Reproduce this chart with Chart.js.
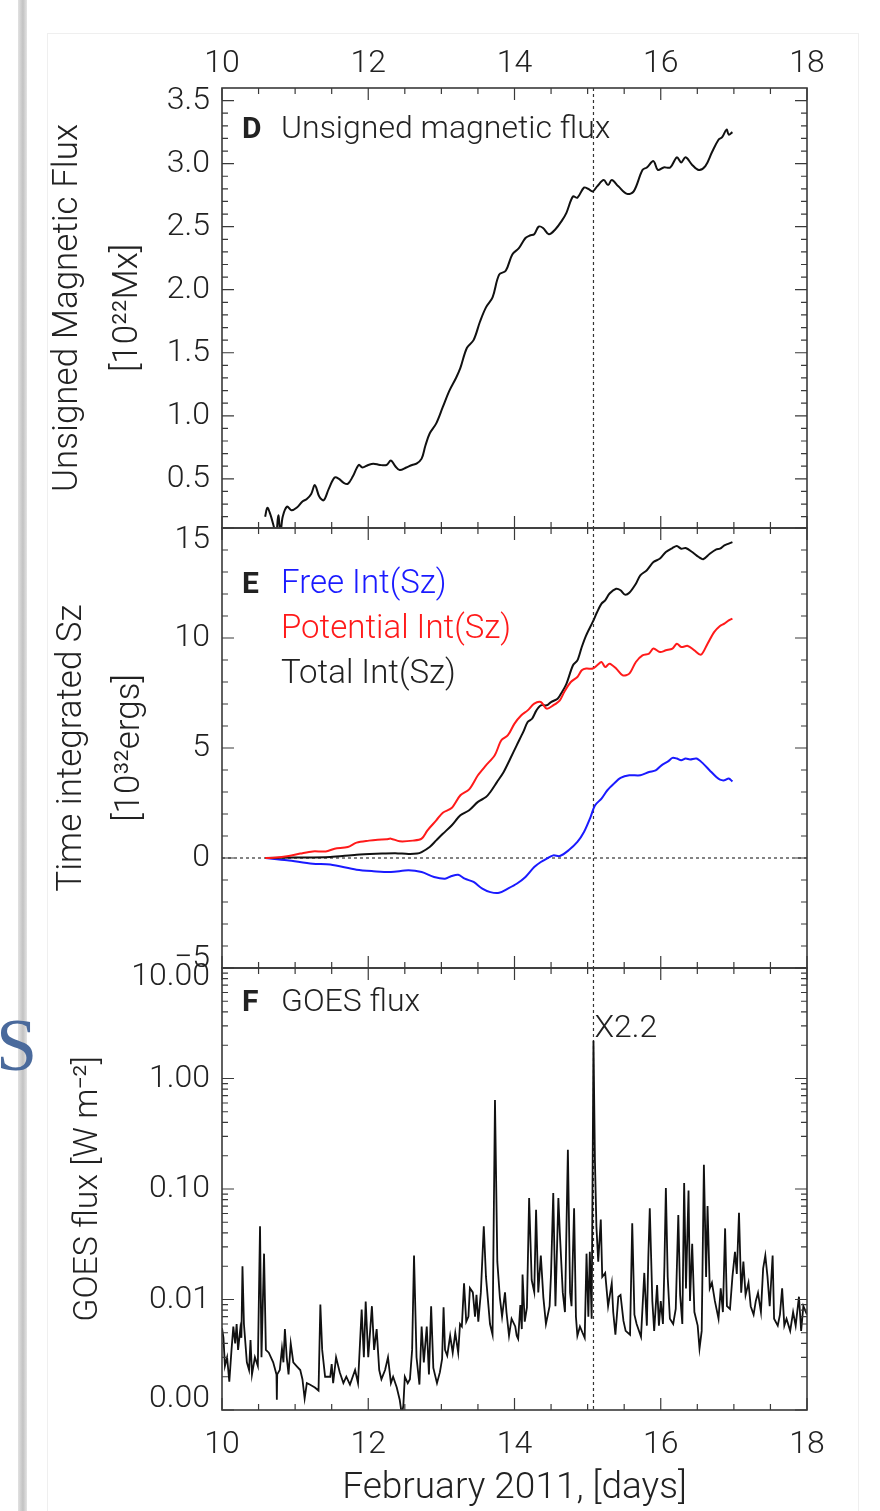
<!DOCTYPE html>
<html>
<head>
<meta charset="utf-8">
<script src="https://cdn.jsdelivr.net/npm/chart.js@4.4.1/dist/chart.umd.min.js"></script>
<style>
  html, body { margin: 0; padding: 0; background: #fff; }
  body { width: 880px; height: 1511px; position: relative; overflow: hidden; }
  .shadow { position: absolute; left: 18px; top: 0; width: 9px; height: 1511px;
            background: linear-gradient(to right, #e2e2e2, #c2c2c2 55%, #e4e4e4); }
  .slide-s { position: absolute; left: -4px; top: 1008px; font: 74px "Liberation Serif", serif; color: #4a6a9c; z-index: 1; line-height: 1; }
  .sheet { position: absolute; left: 47px; top: 33px; width: 810px; height: 1500px; border: 1px solid #efefef; }
  canvas { position: absolute; left: 0; z-index: 2; }
</style>
</head>
<body>
<div class="shadow"></div>
<div class="slide-s">S</div>
<div class="sheet"></div>
<canvas id="fluxChart" width="880" height="540" style="top:0px"></canvas>
<canvas id="szChart" width="880" height="456" style="top:520px"></canvas>
<canvas id="goesChart" width="880" height="551" style="top:960px"></canvas>
<script>
// ---- data ----
const xTicks = [10, 12, 14, 16, 18];
const flareDay = 15.08;

// D: unsigned magnetic flux [10^22 Mx]
const fluxTicks = [0.5, 1.0, 1.5, 2.0, 2.5, 3.0, 3.5];
const fluxDays = [10.59, 10.62, 10.66, 10.70, 10.74, 10.77, 10.80, 10.83, 10.89, 10.95,
  11.02, 11.10, 11.16, 11.22, 11.27, 11.33, 11.39, 11.46, 11.54, 11.60, 11.66, 11.72, 11.79,
  11.87, 11.92, 12.00, 12.07, 12.16, 12.25, 12.31, 12.37, 12.43, 12.52, 12.60, 12.66, 12.73,
  12.78, 12.84, 12.93, 13.02, 13.11, 13.20, 13.26, 13.35, 13.44, 13.53, 13.61, 13.70, 13.79,
  13.88, 13.97, 14.06, 14.15, 14.21, 14.27, 14.33, 14.39, 14.47, 14.56, 14.65, 14.71, 14.80,
  14.86, 14.95, 15.01, 15.07, 15.13, 15.22, 15.28, 15.33, 15.42, 15.54, 15.63, 15.75, 15.81,
  15.90, 15.96, 16.04, 16.13, 16.22, 16.28, 16.34, 16.43, 16.52, 16.61, 16.70, 16.79, 16.84,
  16.90, 16.93, 16.98];
const fluxVals = [0.20, 0.27, 0.22, 0.14, 0.06, 0.21, 0.07, 0.20, 0.28, 0.25,
  0.27, 0.32, 0.34, 0.38, 0.45, 0.36, 0.33, 0.42, 0.51, 0.50, 0.47, 0.46, 0.52,
  0.61, 0.59, 0.61, 0.62, 0.61, 0.61, 0.645, 0.60, 0.57, 0.59, 0.61, 0.62, 0.66,
  0.76, 0.86, 0.94, 1.07, 1.20, 1.30, 1.38, 1.54, 1.60, 1.75, 1.86, 1.94, 2.12,
  2.15, 2.28, 2.33, 2.41, 2.43, 2.44, 2.50, 2.49, 2.44, 2.48, 2.55, 2.61, 2.74,
  2.73, 2.81, 2.80, 2.78, 2.82, 2.87, 2.83, 2.87, 2.82, 2.76, 2.78, 2.95, 2.97,
  3.02, 2.95, 2.97, 2.97, 3.05, 3.01, 3.05, 2.99, 2.95, 2.98, 3.09, 3.19, 3.21,
  3.27, 3.23, 3.25];

// E: time integrated Sz [10^32 ergs]
const szTicks = [-5, 0, 5, 10, 15];
const totalDays = [10.59, 11.00, 11.48, 11.84, 12.19, 12.37, 12.55, 12.67, 12.73, 12.84, 12.93,
  13.02, 13.14, 13.26, 13.38, 13.50, 13.61, 13.67, 13.76, 13.85, 13.94, 14.03, 14.12, 14.18,
  14.24, 14.30, 14.36, 14.44, 14.50, 14.59, 14.65, 14.71, 14.80, 14.86, 14.92, 14.98, 15.07,
  15.13, 15.19, 15.24, 15.30, 15.39, 15.45, 15.51, 15.57, 15.66, 15.72, 15.81, 15.90, 15.99,
  16.07, 16.16, 16.22, 16.28, 16.34, 16.43, 16.52, 16.58, 16.67, 16.76, 16.81, 16.87, 16.93, 16.98];
const totalVals = [0, 0.02, 0.05, 0.15, 0.20, 0.22, 0.18, 0.20, 0.27, 0.50, 0.80,
  1.10, 1.48, 1.94, 2.17, 2.55, 2.77, 3.00, 3.45, 3.90, 4.50, 5.12, 5.73, 6.18,
  6.33, 6.71, 6.94, 6.94, 7.09, 7.24, 7.55, 7.92, 8.76, 8.98, 9.59, 10.12, 10.73,
  11.18, 11.56, 11.71, 12.02, 12.24, 12.17, 11.97, 12.06, 12.47, 12.85, 13.08, 13.45, 13.61,
  13.91, 14.09, 14.18, 14.06, 14.09, 13.91, 13.68, 13.58, 13.83, 14.03, 14.06, 14.21, 14.29, 14.36];
const potDays = [10.59, 10.75, 10.89, 11.07, 11.24, 11.42, 11.54, 11.72, 11.84, 12.01, 12.13,
  12.25, 12.31, 12.43, 12.61, 12.73, 12.81, 12.93, 13.02, 13.14, 13.26, 13.38, 13.50, 13.61,
  13.73, 13.82, 13.91, 14.00, 14.09, 14.18, 14.27, 14.36, 14.44, 14.53, 14.62, 14.68, 14.77,
  14.86, 14.92, 14.98, 15.07, 15.13, 15.19, 15.24, 15.30, 15.39, 15.48, 15.57, 15.66, 15.75,
  15.84, 15.90, 15.99, 16.07, 16.16, 16.22, 16.28, 16.37, 16.46, 16.55, 16.64, 16.73, 16.81,
  16.87, 16.93, 16.98];
const potVals = [0, 0.02, 0.08, 0.20, 0.30, 0.30, 0.42, 0.50, 0.70, 0.79, 0.83,
  0.85, 0.88, 0.76, 0.79, 0.88, 1.26, 1.71, 2.06, 2.27, 2.85, 3.12, 3.76, 4.21,
  4.67, 5.35, 5.58, 6.11, 6.48, 6.71, 7.02, 7.09, 6.79, 6.94, 7.17, 7.55, 8.00,
  8.23, 8.53, 8.61, 8.61, 8.76, 8.91, 8.68, 8.83, 8.61, 8.30, 8.38, 8.91, 9.21,
  9.29, 9.52, 9.36, 9.44, 9.52, 9.74, 9.59, 9.64, 9.44, 9.24, 9.74, 10.27, 10.55,
  10.65, 10.80, 10.88];
const freeDays = [10.59, 10.89, 11.24, 11.48, 11.84, 12.07, 12.31, 12.55, 12.73, 12.90, 13.05,
  13.14, 13.23, 13.32, 13.44, 13.56, 13.67, 13.79, 13.91, 14.03, 14.15, 14.27, 14.36, 14.44,
  14.53, 14.62, 14.74, 14.86, 14.95, 15.04, 15.10, 15.19, 15.27, 15.36, 15.45, 15.57, 15.72,
  15.84, 15.93, 16.01, 16.10, 16.16, 16.22, 16.28, 16.34, 16.40, 16.49, 16.58, 16.67, 16.76,
  16.81, 16.87, 16.93, 16.98];
const freeVals = [0, -0.10, -0.26, -0.30, -0.53, -0.60, -0.64, -0.56, -0.64, -0.86, -0.94,
  -0.82, -0.76, -0.94, -1.09, -1.39, -1.55, -1.58, -1.39, -1.17, -0.86, -0.41, -0.18, -0.03,
  0.12, 0.09, 0.35, 0.73, 1.18, 1.86, 2.39, 2.70, 3.08, 3.38, 3.64, 3.76, 3.76,
  3.91, 3.98, 4.21, 4.39, 4.55, 4.52, 4.44, 4.52, 4.48, 4.52, 4.29, 3.98, 3.68,
  3.56, 3.53, 3.61, 3.48];

// F: GOES flux (axis units as labelled)
const goesTicks = [0.001, 0.01, 0.1, 1, 10];
const goesDays = [
  10.00, 10.02, 10.04, 10.07, 10.10, 10.13, 10.155, 10.18, 10.20, 10.22, 10.25, 10.265, 10.28, 10.30,
  10.34, 10.37, 10.39, 10.41, 10.45, 10.49, 10.52, 10.54, 10.575, 10.60, 10.64, 10.70, 10.745, 10.75,
  10.755, 10.79, 10.82, 10.84, 10.86, 10.885, 10.91, 10.94, 10.975, 11.02, 11.07, 11.10, 11.13, 11.16,
  11.20, 11.27, 11.32, 11.345, 11.37, 11.41, 11.48, 11.50, 11.52, 11.56, 11.61, 11.66, 11.70, 11.75,
  11.82, 11.86, 11.91, 11.94, 11.965, 12.00, 12.05, 12.08, 12.115, 12.15, 12.18, 12.23, 12.27, 12.31,
  12.34, 12.39, 12.43, 12.46, 12.48, 12.50, 12.54, 12.57, 12.60, 12.626, 12.66, 12.70, 12.73, 12.76,
  12.80, 12.83, 12.86, 12.89, 12.94, 12.98, 13.01, 13.03, 13.05, 13.08, 13.12, 13.155, 13.19, 13.23,
  13.255, 13.28, 13.31, 13.34, 13.37, 13.39, 13.43, 13.46, 13.48, 13.505, 13.54, 13.58, 13.61, 13.665,
  13.70, 13.733, 13.765, 13.80, 13.83, 13.87, 13.89, 13.925, 13.96, 14.01, 14.03, 14.05, 14.08, 14.10,
  14.11, 14.14, 14.17, 14.20, 14.235, 14.27, 14.295, 14.325, 14.36, 14.395, 14.43, 14.48, 14.50, 14.53,
  14.56, 14.60, 14.62, 14.66, 14.69, 14.73, 14.76, 14.78, 14.815, 14.84, 14.86, 14.895, 14.93, 14.96,
  14.985, 15.01, 15.03, 15.055, 15.08, 15.10, 15.12, 15.145, 15.18, 15.20, 15.24, 15.28, 15.33, 15.35,
  15.38, 15.42, 15.45, 15.49, 15.52, 15.58, 15.61, 15.64, 15.67, 15.73, 15.775, 15.81, 15.83, 15.85,
  15.885, 15.91, 15.95, 15.975, 16.00, 16.03, 16.05, 16.07, 16.095, 16.125, 16.17, 16.205, 16.24, 16.265,
  16.295, 16.32, 16.345, 16.38, 16.40, 16.43, 16.46, 16.505, 16.53, 16.56, 16.59, 16.62, 16.64, 16.67,
  16.70, 16.74, 16.79, 16.82, 16.85, 16.88, 16.905, 16.947, 16.98, 17.015, 17.04, 17.07, 17.10, 17.13,
  17.16, 17.20, 17.23, 17.27, 17.30, 17.33, 17.37, 17.40, 17.43, 17.46, 17.49, 17.53, 17.55, 17.60,
  17.63, 17.66, 17.69, 17.72, 17.77, 17.81, 17.845, 17.89, 17.92, 17.95, 18.00];
const goesVals = [
  0.0055, 0.0045, 0.0025, 0.0030, 0.0018, 0.0035, 0.0057, 0.0040, 0.0060, 0.0035, 0.0054, 0.0045, 0.020, 0.0060,
  0.0027, 0.0023, 0.0043, 0.0021, 0.0030, 0.0025, 0.046, 0.0030, 0.026, 0.0035, 0.0033, 0.0027, 0.0021, 0.00124,
  0.0021, 0.0023, 0.0036, 0.0027, 0.0054, 0.0030, 0.0021, 0.0040, 0.0027, 0.0025, 0.0023, 0.0019, 0.00127, 0.00175,
  0.0017, 0.0016, 0.0015, 0.009, 0.0035, 0.0020, 0.0020, 0.0026, 0.00175, 0.0030, 0.0022, 0.00175, 0.0020, 0.0017,
  0.0023, 0.00175, 0.0081, 0.0030, 0.0096, 0.0030, 0.0087, 0.0035, 0.0054, 0.0023, 0.0019, 0.0023, 0.0030, 0.00175,
  0.0020, 0.0016, 0.00124, 0.0009, 0.0011, 0.0020, 0.00175, 0.0019, 0.0035, 0.025, 0.0030, 0.0017, 0.0057, 0.0027,
  0.0057, 0.0021, 0.0087, 0.0024, 0.00175, 0.0022, 0.0029, 0.0085, 0.0035, 0.0031, 0.0047, 0.0033, 0.0050, 0.0033,
  0.0060, 0.0057, 0.014, 0.0063, 0.0070, 0.0127, 0.0116, 0.0070, 0.0110, 0.0063, 0.0116, 0.046, 0.016, 0.0060,
  0.0048, 0.64, 0.022, 0.0104, 0.0070, 0.0116, 0.0077, 0.0047, 0.0067, 0.0057, 0.0047, 0.0044, 0.0089, 0.0054,
  0.0168, 0.0063, 0.0085, 0.083, 0.015, 0.0117, 0.065, 0.0116, 0.025, 0.0104, 0.0060, 0.0087, 0.0173, 0.092,
  0.0087, 0.083, 0.040, 0.0116, 0.0077, 0.227, 0.0116, 0.0087, 0.067, 0.0070, 0.0047, 0.0057, 0.0050, 0.0045,
  0.026, 0.0070, 0.027, 0.0067, 2.2, 0.18, 0.046, 0.022, 0.053, 0.016, 0.0174, 0.0087, 0.014, 0.0077,
  0.0048, 0.0106, 0.011, 0.0064, 0.0052, 0.0048, 0.049, 0.0073, 0.0060, 0.0046, 0.0174, 0.0058, 0.024, 0.067,
  0.0097, 0.0052, 0.0135, 0.0058, 0.0097, 0.0060, 0.020, 0.102, 0.016, 0.0067, 0.0060, 0.0082, 0.058, 0.011,
  0.0060, 0.113, 0.0126, 0.097, 0.0097, 0.032, 0.0077, 0.0058, 0.0036, 0.0052, 0.166, 0.016, 0.070, 0.0126,
  0.0142, 0.0097, 0.0067, 0.0126, 0.0077, 0.044, 0.0087, 0.0082, 0.016, 0.027, 0.017, 0.061, 0.0115, 0.022,
  0.011, 0.0142, 0.0087, 0.0073, 0.0097, 0.0115, 0.0077, 0.019, 0.025, 0.016, 0.0087, 0.025, 0.0067, 0.0058,
  0.0073, 0.0126, 0.0058, 0.0067, 0.0052, 0.0077, 0.0058, 0.0106, 0.0052, 0.0087, 0.0073];

// ---- helpers ----
const FONT = 'Roboto';
const INK = '#222';
const TXT = 32;
const TITLE = 35;
Chart.defaults.font.family = FONT;
Chart.defaults.font.weight = 300;
Chart.defaults.font.size = TXT;
Chart.defaults.color = INK;

const pts = (xs, ys) => xs.map((x, i) => ({x, y: ys[i]}));
const setTicks = list => scale => { scale.ticks = list.map(value => ({value})); };
const fixSize = (w, h) => scale => {
  if (w != null) scale.width = w;
  if (h != null) scale.height = h;
  scale.paddingTop = scale.paddingBottom = scale.paddingLeft = scale.paddingRight = 0;
};

const xMinor = [];
for (let d = 10; d <= 18.001; d += 0.5) xMinor.push(d);

function range(a, b, step) {
  const out = [];
  for (let i = Math.round(a / step); i <= Math.round(b / step); i++) out.push(+(i * step).toFixed(6));
  return out;
}

function panelFrame(cfg) {
  return {
    id: 'panelFrame',
    beforeDraw(chart) {
      if (!cfg.edgeShift) return;
      const items = chart.scales.y.getLabelItems();
      items[0].options.translation[1] += cfg.edgeShift[0];
      items[items.length - 1].options.translation[1] += cfg.edgeShift[1];
    },
    beforeDatasetsDraw(chart) {
      const {ctx, chartArea: a, scales: {x, y}} = chart;
      ctx.save();
      ctx.strokeStyle = '#333';
      ctx.lineWidth = 1.2;
      ctx.setLineDash([3, 3]);
      const fx = x.getPixelForValue(flareDay);
      ctx.beginPath(); ctx.moveTo(fx, a.top); ctx.lineTo(fx, a.bottom); ctx.stroke();
      if (cfg.zeroLine) {
        const zy = y.getPixelForValue(0);
        ctx.beginPath(); ctx.moveTo(a.left, zy); ctx.lineTo(a.right, zy); ctx.stroke();
      }
      ctx.restore();
    },
    afterDatasetsDraw(chart) {
      const {ctx, chartArea: a, scales: {x, y}} = chart;
      ctx.save();
      ctx.strokeStyle = '#3a3a3a';
      ctx.lineWidth = 1.2;
      ctx.beginPath();
      xMinor.forEach(d => {
        const px = x.getPixelForValue(d);
        const len = Math.abs(d % 2) < 1e-6 ? 12 : 6;
        ctx.moveTo(px, a.top); ctx.lineTo(px, a.top + len);
        ctx.moveTo(px, a.bottom); ctx.lineTo(px, a.bottom - len);
      });
      const yTick = (v, len) => {
        const py = y.getPixelForValue(v);
        if (py < a.top - 0.5 || py > a.bottom + 0.5) return;
        ctx.moveTo(a.left, py); ctx.lineTo(a.left + len, py);
        ctx.moveTo(a.right, py); ctx.lineTo(a.right - len, py);
      };
      cfg.yMinor.forEach(v => yTick(v, 6));
      cfg.yMajor.forEach(v => yTick(v, 12));
      ctx.stroke();
      ctx.lineWidth = 1.6;
      ctx.strokeRect(a.left, a.top, a.right - a.left, a.bottom - a.top);

      ctx.textBaseline = 'middle';
      ctx.textAlign = 'left';
      cfg.notes.forEach(n => {
        ctx.font = (n.bold ? '700 ' : '300 ') + (n.size || TXT) + 'px ' + FONT;
        ctx.fillStyle = n.color || INK;
        ctx.fillText(n.text, a.left + n.dx, a.top + n.dy);
      });
      if (cfg.peak) {
        ctx.font = '300 ' + TXT + 'px ' + FONT;
        ctx.fillStyle = INK;
        ctx.fillText(cfg.peak.text, x.getPixelForValue(cfg.peak.x) + 1, y.getPixelForValue(cfg.peak.y) - 12);
      }
      ctx.restore();
    }
  };
}

const common = {
  responsive: false,
  animation: false,
  plugins: {legend: {display: false}, tooltip: {enabled: false}},
  elements: {point: {radius: 0}, line: {fill: false}}
};

const noGrid = {display: false, drawTicks: false};
const noBorder = {display: false};

// ---- panel D ----
new Chart(document.getElementById('fluxChart'), {
  type: 'line',
  data: {datasets: [{data: pts(fluxDays, fluxVals), borderColor: '#111', borderWidth: 2, tension: 0.35}]},
  options: {
    ...common,
    layout: {padding: {left: 0, right: 73, top: 0, bottom: 12}},
    scales: {
      x: {
        type: 'linear', position: 'top', min: 10, max: 18,
        grid: noGrid, border: noBorder,
        afterBuildTicks: setTicks(xTicks), afterFit: fixSize(null, 88),
        ticks: {padding: 5, maxRotation: 0, callback: v => String(v)}
      },
      y: {
        type: 'linear', min: 0.11, max: 3.6,
        grid: noGrid, border: noBorder,
        afterBuildTicks: setTicks(fluxTicks), afterFit: fixSize(222, null),
        ticks: {padding: 12, callback: v => v.toFixed(1)},
        title: {display: true, text: ['Unsigned Magnetic Flux', '[10\u00b2\u00b2Mx]'],
                font: {size: TITLE, lineHeight: 60 / TITLE}, padding: {top: 38, bottom: 0}}
      }
    }
  },
  plugins: [panelFrame({
    yMajor: fluxTicks, yMinor: range(0.2, 3.5, 0.1),
    notes: [
      {text: 'D', dx: 20, dy: 42, bold: true, size: 30},
      {text: 'Unsigned magnetic flux', dx: 59, dy: 42}
    ]
  })]
});

// ---- panel E ----
new Chart(document.getElementById('szChart'), {
  type: 'line',
  data: {datasets: [
    {data: pts(potDays, potVals), borderColor: '#ff1a1a', borderWidth: 2, tension: 0.3},
    {data: pts(totalDays, totalVals), borderColor: '#111', borderWidth: 2, tension: 0.3},
    {data: pts(freeDays, freeVals), borderColor: '#1a1aff', borderWidth: 2, tension: 0.3}
  ]},
  options: {
    ...common,
    layout: {padding: {left: 0, right: 73, top: 8, bottom: 8}},
    scales: {
      x: {type: 'linear', display: false, min: 10, max: 18},
      y: {
        type: 'linear', min: -5, max: 15,
        grid: noGrid, border: noBorder,
        afterBuildTicks: setTicks(szTicks), afterFit: fixSize(222, null),
        ticks: {padding: 12, callback: v => (v < 0 ? '\u2212' + Math.abs(v) : String(v))},
        title: {display: true, text: ['Time integrated Sz', '[10\u00b3\u00b2ergs]'],
                font: {size: TITLE, lineHeight: 58 / TITLE}, padding: {top: 43, bottom: 0}}
      }
    }
  },
  plugins: [panelFrame({
    yMajor: szTicks, yMinor: range(-5, 15, 1), zeroLine: true, edgeShift: [-9, 12],
    notes: [
      {text: 'E', dx: 20, dy: 57, bold: true, size: 30},
      {text: 'Free Int(Sz)', dx: 59, dy: 57, color: '#1a1aff', size: 33},
      {text: 'Potential Int(Sz)', dx: 59, dy: 102, color: '#ff1a1a', size: 33},
      {text: 'Total Int(Sz)', dx: 59, dy: 147, size: 33}
    ]
  })]
});

// ---- panel F ----
const goesMinor = [];
[0.001, 0.01, 0.1, 1].forEach(dec => { for (let k = 2; k <= 9; k++) goesMinor.push(dec * k); });

new Chart(document.getElementById('goesChart'), {
  type: 'line',
  data: {datasets: [{data: pts(goesDays, goesVals), borderColor: '#111', borderWidth: 1.8, tension: 0}]},
  options: {
    ...common,
    layout: {padding: {left: 0, right: 73, top: 8, bottom: 0}},
    scales: {
      x: {
        type: 'linear', position: 'bottom', min: 10, max: 18,
        grid: noGrid, border: noBorder,
        afterBuildTicks: setTicks(xTicks), afterFit: fixSize(null, 101),
        ticks: {padding: 16, maxRotation: 0, callback: v => String(v)},
        title: {display: true, text: 'February 2011, [days]', font: {size: 37}, padding: {top: 0, bottom: 0}}
      },
      y: {
        type: 'logarithmic', min: 0.001, max: 10,
        grid: noGrid, border: noBorder,
        afterBuildTicks: setTicks(goesTicks), afterFit: fixSize(222, null),
        ticks: {padding: 12, callback: v => Number(v).toFixed(2)},
        title: {display: true, text: 'GOES flux [W m\u207b\u00b2]', font: {size: 34}, padding: {top: 68, bottom: 0}}
      }
    }
  },
  plugins: [panelFrame({
    yMajor: goesTicks, yMinor: goesMinor, edgeShift: [-11, 9],
    peak: {text: 'X2.2', x: flareDay, y: 2.2},
    notes: [
      {text: 'F', dx: 20, dy: 35, bold: true, size: 30},
      {text: 'GOES flux', dx: 59, dy: 35}
    ]
  })]
});
</script>
</body>
</html>
